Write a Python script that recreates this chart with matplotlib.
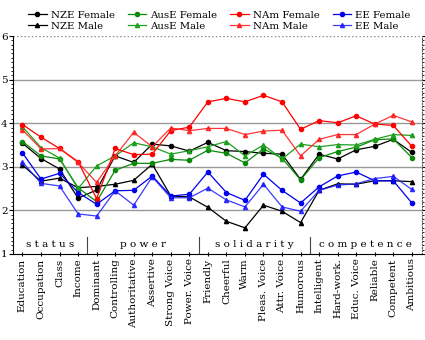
import numpy as np
import matplotlib
matplotlib.use("Agg")
import matplotlib.pyplot as plt

plt.rcParams['font.family'] = ['DejaVu Serif']

traits = ["Education", "Occupation", "Class", "Income",
          "Dominant", "Controlling", "Authoritative", "Assertive", "Strong Voice", "Power. Voice",
          "Friendly", "Cheerful", "Warm", "Pleas. Voice", "Attr. Voice", "Humorous",
          "Intelligent", "Hard-work.", "Educ. Voice", "Reliable", "Competent", "Ambitious"]
groups = ["status", "power", "solidarity", "competence"]
group_sizes = [4, 6, 6, 6]

nze_f = [3.54, 3.19, 2.95, 2.28, 2.47, 3.25, 3.10, 3.52, 3.48, 3.36,
         3.56, 3.37, 3.35, 3.31, 3.29, 2.71, 3.29, 3.18, 3.39, 3.47, 3.63, 3.33]
nze_m = [3.04, 2.67, 2.74, 2.52, 2.55, 2.60, 2.69, 3.06, 2.33, 2.31,
         2.07, 1.75, 1.60, 2.12, 1.98, 1.72, 2.46, 2.61, 2.60, 2.68, 2.68, 2.66]
aus_f = [3.58, 3.25, 3.18, 2.52, 2.20, 2.92, 3.08, 3.08, 3.17, 3.15,
         3.38, 3.31, 3.09, 3.41, 3.20, 2.70, 3.21, 3.35, 3.45, 3.62, 3.64, 3.21]
aus_m = [3.92, 3.44, 3.20, 2.50, 3.02, 3.25, 3.55, 3.46, 3.29, 3.37,
         3.46, 3.58, 3.25, 3.50, 3.18, 3.52, 3.46, 3.51, 3.50, 3.63, 3.74, 3.72]
nam_f = [3.97, 3.68, 3.42, 3.12, 2.27, 3.42, 3.28, 3.29, 3.83, 3.91,
         4.49, 4.57, 4.49, 4.64, 4.49, 3.86, 4.06, 4.01, 4.17, 3.98, 3.95, 3.47]
nam_m = [3.85, 3.41, 3.42, 3.10, 2.64, 3.25, 3.79, 3.46, 3.89, 3.83,
         3.88, 3.88, 3.74, 3.82, 3.84, 3.25, 3.63, 3.74, 3.74, 3.98, 4.18, 4.03]
ee_f = [3.32, 2.72, 2.85, 2.41, 2.14, 2.45, 2.46, 2.79, 2.33, 2.37,
        2.88, 2.41, 2.23, 2.83, 2.46, 2.17, 2.54, 2.79, 2.88, 2.68, 2.68, 2.17]
ee_m = [3.11, 2.62, 2.56, 1.92, 1.87, 2.45, 2.12, 2.77, 2.29, 2.29,
        2.51, 2.24, 2.08, 2.60, 2.08, 1.98, 2.46, 2.58, 2.61, 2.73, 2.78, 2.48]

x = np.arange(len(traits))

fig = plt.figure(figsize=(4.25, 3.4), dpi=100)
ax = fig.add_axes([0.031, 0.253, 0.962, 0.641])

series = [
    (nze_f, "NZE Female", "black", "o", 1.0),
    (nze_m, "NZE Male", "black", "^", 1.0),
    (aus_f, "AusE Female", "#0a8a0a", "o", 1.0),
    (aus_m, "AusE Male", "#1fa01f", "^", 1.0),
    (nam_f, "NAm Female", "#ff0000", "o", 1.0),
    (nam_m, "NAm Male", "#ff2020", "^", 0.9),
    (ee_f, "EE Female", "#0000ee", "o", 1.0),
    (ee_m, "EE Male", "#1a1aff", "^", 0.85),
]
for vals, lab, col, mk, al in series:
    ax.plot(x, vals, color=col, marker=mk, ms=3, lw=0.9, alpha=al, label=lab)

for yy in [2, 3, 4, 5]:
    ax.axhline(yy, color="#999999", lw=1, zorder=0)
ax.axhline(6, color="#888888", lw=1, ls=":", zorder=0)

# group separators and labels
start = 0
for i, (g, n) in enumerate(zip(groups, group_sizes)):
    mid = start + (n - 1) / 2
    ax.text(mid, 1.22, " ".join(g), ha="center", va="center", fontsize=7.5)
    if i > 0:
        ax.plot([start - 0.5, start - 0.5], [1, 1.38], color="#444444", lw=0.8)
    start += n

ax.set_xlim(-0.5, len(traits) - 0.45)
ax.set_ylim(1, 6)
ax.set_xticks(x)
ax.set_xticklabels(traits, rotation=90, fontsize=7.5)
ax.set_yticks([1, 2, 3, 4, 5, 6])
ax.set_yticks(np.arange(1, 6.01, 0.1), minor=True)
ax.tick_params(axis="y", labelsize=7.5, length=3, pad=1, right=True, which="both")
ax.tick_params(axis="y", which="minor", length=1.5)
ax.tick_params(axis="x", length=2.5, direction="inout", pad=2)
ax.spines["top"].set_visible(False)
ax.spines["right"].set_linestyle(":")
ax.spines["right"].set_color("#555555")

fig.legend(loc="upper left", bbox_to_anchor=(0.045, 0.995), ncol=4, fontsize=7.3,
           frameon=False, handlelength=1.8, columnspacing=1.3, labelspacing=0.2,
           handletextpad=0.4)

fig.savefig("out.png", dpi=100)
